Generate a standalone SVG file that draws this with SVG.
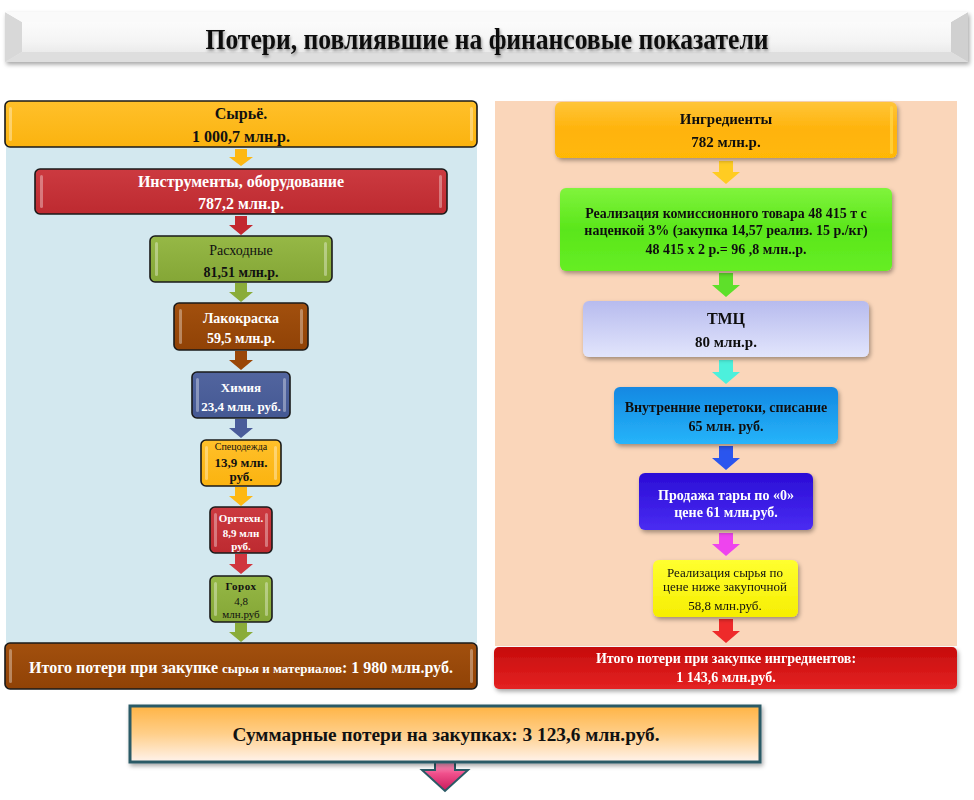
<svg xmlns="http://www.w3.org/2000/svg" width="974" height="800" viewBox="0 0 974 800">
<defs>
<style>
.t{font-family:"Liberation Serif","Times New Roman",serif;font-weight:bold;text-anchor:middle;}
.n{font-weight:normal;}
.w{fill:#ffffff;}
.k{fill:#111111;}
.lb{stroke:#1a1a1a;stroke-width:1.6;}
.hl{fill:#ffffff;opacity:0.35;}
</style>
<filter id="sh" x="-10%" y="-20%" width="120%" height="150%">
<feDropShadow dx="1.5" dy="2.5" stdDeviation="2" flood-color="#000" flood-opacity="0.35"/>
</filter>
<filter id="tsh" x="-5%" y="-30%" width="110%" height="160%">
<feDropShadow dx="1" dy="2" stdDeviation="1.5" flood-color="#000" flood-opacity="0.4"/>
</filter>
<linearGradient id="gTitle" x1="0" y1="0" x2="0" y2="1"><stop offset="0" stop-color="#ffffff"/><stop offset="0.6" stop-color="#f4f4f4"/><stop offset="1" stop-color="#e2e2e2"/></linearGradient>
<linearGradient id="gOr" x1="0" y1="0" x2="0" y2="1"><stop offset="0" stop-color="#ffc02a"/><stop offset="1" stop-color="#fbb30f"/></linearGradient>
<linearGradient id="gRed" x1="0" y1="0" x2="0" y2="1"><stop offset="0" stop-color="#cc3a40"/><stop offset="1" stop-color="#bd2a30"/></linearGradient>
<linearGradient id="gOl" x1="0" y1="0" x2="0" y2="1"><stop offset="0" stop-color="#96b846"/><stop offset="1" stop-color="#84a636"/></linearGradient>
<linearGradient id="gBr" x1="0" y1="0" x2="0" y2="1"><stop offset="0" stop-color="#a2500e"/><stop offset="1" stop-color="#904206"/></linearGradient>
<linearGradient id="gBl" x1="0" y1="0" x2="0" y2="1"><stop offset="0" stop-color="#52659f"/><stop offset="1" stop-color="#445893"/></linearGradient>
<linearGradient id="gIng" x1="0" y1="0" x2="0" y2="1"><stop offset="0" stop-color="#ffc53a"/><stop offset="0.5" stop-color="#ffb30a"/><stop offset="1" stop-color="#ffb806"/></linearGradient>
<linearGradient id="gGr" x1="0" y1="0" x2="0" y2="1"><stop offset="0" stop-color="#80f43c"/><stop offset="0.5" stop-color="#5ae61a"/><stop offset="1" stop-color="#66ee24"/></linearGradient>
<linearGradient id="gLav" x1="0" y1="0" x2="0" y2="1"><stop offset="0" stop-color="#b7bbee"/><stop offset="1" stop-color="#e2e5fc"/></linearGradient>
<linearGradient id="gSky" x1="0" y1="0" x2="0" y2="1"><stop offset="0" stop-color="#1488e2"/><stop offset="1" stop-color="#26b4fa"/></linearGradient>
<linearGradient id="gVi" x1="0" y1="0" x2="0" y2="1"><stop offset="0" stop-color="#2a0cd6"/><stop offset="1" stop-color="#4a2cf2"/></linearGradient>
<linearGradient id="gYe" x1="0" y1="0" x2="0" y2="1"><stop offset="0" stop-color="#ffff30"/><stop offset="1" stop-color="#f6ee00"/></linearGradient>
<linearGradient id="gRR" x1="0" y1="0" x2="0" y2="1"><stop offset="0" stop-color="#c60c0c"/><stop offset="1" stop-color="#e42222"/></linearGradient>
<linearGradient id="gSum" x1="0" y1="0" x2="0" y2="1"><stop offset="0" stop-color="#ffb445"/><stop offset="0.5" stop-color="#ffcf8a"/><stop offset="1" stop-color="#fff3ec"/></linearGradient>
<linearGradient id="gPink" x1="0" y1="0" x2="0" y2="1"><stop offset="0" stop-color="#ffd0e4"/><stop offset="0.5" stop-color="#f0508c"/><stop offset="1" stop-color="#c81a5a"/></linearGradient>
</defs>

<rect x="0" y="0" width="974" height="800" fill="#ffffff"/>

<g id="title">
<rect x="5" y="12" width="963" height="50" fill="url(#gTitle)" filter="url(#sh)"/>
<polygon points="5,12 22,22 22,52 5,62" fill="#d8d8d8"/>
<polygon points="968,12 951,22 951,52 968,62" fill="#d0d0d0"/>
<polygon points="5,12 968,12 951,22 22,22" fill="#fafafa"/>
<polygon points="5,62 968,62 951,52 22,52" fill="#dedede"/>
<text class="t k" x="487" y="49" font-size="30" textLength="563" lengthAdjust="spacingAndGlyphs" filter="url(#tsh)">Потери, повлиявшие на финансовые показатели</text>
</g>

<g id="panels">
<rect x="6" y="101" width="471" height="542" fill="#d3e8ef"/>
<rect x="495" y="101" width="462" height="545" fill="#fad6ba"/>
</g>

<g id="connectors">
<path d="M235,149 h12 v8 h6 l-12,9 l-12,-9 h6 z" fill="#fdb813"/>
<path d="M235,216 h12 v9 h6 l-12,10 l-12,-10 h6 z" fill="#c3282f"/>
<path d="M235,283 h12 v9 h6 l-12,10 l-12,-10 h6 z" fill="#8aac3a"/>
<path d="M235,351 h12 v9 h6 l-12,10 l-12,-10 h6 z" fill="#9a4708"/>
<path d="M235,419 h12 v9 h6 l-12,10 l-12,-10 h6 z" fill="#4a5c9a"/>
<path d="M235,487 h12 v9 h6 l-12,10 l-12,-10 h6 z" fill="#fdb813"/>
<path d="M235,554 h12 v10 h6 l-12,10 l-12,-10 h6 z" fill="#d0363e"/>
<path d="M235,623 h12 v9 h6 l-12,10 l-12,-10 h6 z" fill="#8aac3a"/>
<path d="M719,161 h14 v11 h7 l-14,12 l-14,-12 h7 z" fill="#ffcc22"/>
<path d="M719,273 h14 v12 h7 l-14,12 l-14,-12 h7 z" fill="#5ee02a"/>
<path d="M719,360 h14 v12 h7 l-14,12 l-14,-12 h7 z" fill="#4cf0dc"/>
<path d="M719,446 h14 v12 h7 l-14,12 l-14,-12 h7 z" fill="#2a55ee"/>
<path d="M719,533 h14 v11 h7 l-14,12 l-14,-12 h7 z" fill="#ee44ee"/>
<path d="M719,619 h14 v12 h7 l-14,12 l-14,-12 h7 z" fill="#ee2a2a"/>
<path d="M435,756 h20 v14 h13 l-23,21 l-23,-21 h13 z" fill="url(#gPink)" stroke="#2a5a66" stroke-width="2"/>
</g>

<g id="n-syrye">
<rect x="5" y="101" width="472" height="46" rx="5" fill="url(#gOr)" class="lb"/>
<rect x="9" y="107" width="3" height="34" rx="1.5" class="hl"/><rect x="470" y="107" width="3" height="34" rx="1.5" class="hl"/>
<text class="t k" x="241" y="119" font-size="16">Сырьё.</text>
<text class="t k" x="241" y="142" font-size="16">1 000,7 млн.р.</text>
</g>

<g id="n-instr">
<rect x="35" y="169" width="412" height="45" rx="5" fill="url(#gRed)" class="lb"/>
<rect x="40" y="175" width="3" height="33" rx="1.5" class="hl"/><rect x="439" y="175" width="3" height="33" rx="1.5" class="hl"/>
<text class="t w" x="241" y="187" font-size="16">Инструменты, оборудование</text>
<text class="t w" x="241" y="209" font-size="16">787,2 млн.р.</text>
</g>

<g id="n-rash">
<rect x="150" y="236" width="182" height="46" rx="5" fill="url(#gOl)" class="lb"/>
<rect x="155" y="242" width="3" height="34" rx="1.5" class="hl"/><rect x="324" y="242" width="3" height="34" rx="1.5" class="hl"/>
<text class="t k n" x="241" y="255" font-size="14">Расходные</text>
<text class="t k" x="241" y="277" font-size="14">81,51 млн.р.</text>
</g>

<g id="n-lak">
<rect x="174" y="303" width="134" height="47" rx="5" fill="url(#gBr)" class="lb"/>
<rect x="179" y="309" width="3" height="35" rx="1.5" class="hl"/><rect x="300" y="309" width="3" height="35" rx="1.5" class="hl"/>
<text class="t w" x="241" y="323" font-size="14">Лакокраска</text>
<text class="t w" x="241" y="343" font-size="14">59,5 млн.р.</text>
</g>

<g id="n-chem">
<rect x="192" y="372" width="98" height="46" rx="5" fill="url(#gBl)" class="lb"/>
<rect x="196" y="378" width="3" height="34" rx="1.5" class="hl"/><rect x="283" y="378" width="3" height="34" rx="1.5" class="hl"/>
<text class="t w" x="241" y="392" font-size="13">Химия</text>
<text class="t w" x="241" y="411" font-size="13">23,4 млн. руб.</text>
</g>

<g id="n-spec">
<rect x="201" y="440" width="80" height="46" rx="5" fill="url(#gOr)" class="lb"/>
<rect x="205" y="446" width="3" height="34" rx="1.5" class="hl"/><rect x="274" y="446" width="3" height="34" rx="1.5" class="hl"/>
<text class="t k n" x="241" y="450" font-size="10">Спецодежда</text>
<text class="t k" x="241" y="467" font-size="13">13,9 млн.</text>
<text class="t k" x="241" y="481" font-size="13">руб.</text>
</g>

<g id="n-orgt">
<rect x="210" y="507" width="62" height="46" rx="5" fill="url(#gRed)" class="lb"/>
<rect x="214" y="513" width="3" height="34" rx="1.5" class="hl"/><rect x="265" y="513" width="3" height="34" rx="1.5" class="hl"/>
<text class="t w" x="241" y="522" font-size="11">Оргтехн.</text>
<text class="t w" x="241" y="537" font-size="11">8,9 млн</text>
<text class="t w" x="241" y="550" font-size="11">руб.</text>
</g>

<g id="n-goroh">
<rect x="210" y="576" width="62" height="46" rx="5" fill="url(#gOl)" class="lb"/>
<rect x="214" y="582" width="3" height="34" rx="1.5" class="hl"/><rect x="265" y="582" width="3" height="34" rx="1.5" class="hl"/>
<text class="t k" x="241" y="590" font-size="11" letter-spacing="0.5">Горох</text>
<text class="t k n" x="241" y="605" font-size="11">4,8</text>
<text class="t k n" x="241" y="618" font-size="11">млн.руб</text>
</g>

<g id="n-total-left">
<rect x="5" y="643" width="472" height="46" rx="5" fill="url(#gBr)" class="lb"/>
<rect x="9" y="649" width="3" height="34" rx="1.5" class="hl"/><rect x="470" y="649" width="3" height="34" rx="1.5" class="hl"/>
<text class="t w" x="241" y="673" font-size="16">Итого потери при закупке <tspan font-size="13">сырья и материалов</tspan>: 1 980 млн.руб.</text>
</g>

<g id="n-ingr" filter="url(#sh)">
<rect x="555" y="102" width="342" height="56" rx="6" fill="url(#gIng)"/>
<rect x="890" y="106" width="3" height="48" rx="1.5" fill="#ffd84a" opacity="0.7"/>
<text class="t k" x="726" y="124" font-size="15">Ингредиенты</text>
<text class="t k" x="726" y="147" font-size="15">782 млн.р.</text>
</g>

<g id="n-komis" filter="url(#sh)">
<rect x="560" y="188" width="332" height="83" rx="6" fill="url(#gGr)"/>
<text class="t k" x="726" y="218" font-size="14">Реализация комиссионного товара 48 415 т с</text>
<text class="t k" x="726" y="235" font-size="14">наценкой 3% (закупка 14,57 реализ. 15 р./кг)</text>
<text class="t k" x="726" y="254" font-size="14">48 415 х 2 р.= 96 ,8 млн..р.</text>
</g>

<g id="n-tmc" filter="url(#sh)">
<rect x="583" y="301" width="286" height="56" rx="6" fill="url(#gLav)"/>
<text class="t k" x="726" y="324" font-size="16">ТМЦ</text>
<text class="t k" x="726" y="347" font-size="15">80 млн.р.</text>
</g>

<g id="n-vnutr" filter="url(#sh)">
<rect x="614" y="387" width="224" height="57" rx="6" fill="url(#gSky)"/>
<text class="t k" x="726" y="412" font-size="14">Внутренние перетоки, списание</text>
<text class="t k" x="726" y="431" font-size="14">65 млн. руб.</text>
</g>

<g id="n-tara" filter="url(#sh)">
<rect x="639" y="473" width="174" height="57" rx="6" fill="url(#gVi)"/>
<text class="t w" x="726" y="500" font-size="14">Продажа тары по «0»</text>
<text class="t w" x="726" y="517" font-size="14">цене 61 млн.руб.</text>
</g>

<g id="n-realiz" filter="url(#sh)">
<rect x="653" y="560" width="145" height="57" rx="6" fill="url(#gYe)"/>
<text class="t k n" x="725" y="577" font-size="13">Реализация сырья по</text>
<text class="t k n" x="725" y="591" font-size="13">цене ниже закупочной</text>
<text class="t k n" x="725" y="610" font-size="13">58,8 млн.руб.</text>
</g>

<g id="n-total-right" filter="url(#sh)">
<rect x="494" y="647" width="463" height="42" rx="5" fill="url(#gRR)"/>
<text class="t w" x="726" y="663" font-size="14">Итого потери при закупке ингредиентов:</text>
<text class="t w" x="726" y="682" font-size="14">1 143,6 млн.руб.</text>
</g>

<g id="n-summary">
<rect x="130" y="706" width="630" height="56" fill="url(#gSum)" stroke="#2a5a66" stroke-width="3" filter="url(#sh)"/>
<text class="t k" x="446" y="741" font-size="18" textLength="427" lengthAdjust="spacingAndGlyphs">Суммарные потери на закупках: 3 123,6 млн.руб.</text>
</g>
</svg>
